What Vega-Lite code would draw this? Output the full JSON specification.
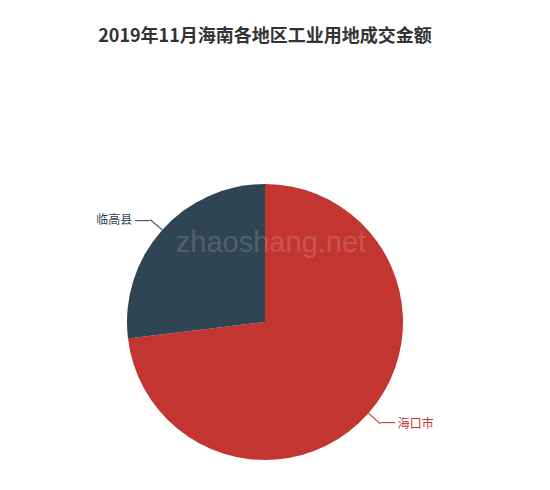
{
  "$schema": "https://vega.github.io/schema/vega-lite/v6.json",
  "width": 530,
  "height": 336,
  "autosize": {"type": "none"},
  "padding": {"left": 0, "top": 154, "right": 0, "bottom": 0},
  "background": "#ffffff",
  "config": {"view": {"stroke": null}},
  "title": {
    "text": "2019年11月海南各地区工业用地成交金额",
    "anchor": "middle",
    "fontSize": 18,
    "fontWeight": "bold",
    "color": "#333333",
    "font": "Noto Sans CJK SC",
    "offset": 108
  },
  "layer": [
    {
      "data": {"values": [
        {"city": "海口市", "amount": 731},
        {"city": "临高县", "amount": 269}
      ]},
      "encoding": {
        "theta": {"field": "amount", "type": "quantitative", "stack": true},
        "order": {"field": "amount", "type": "quantitative", "sort": "descending"},
        "color": {
          "field": "city",
          "type": "nominal",
          "scale": {"domain": ["海口市", "临高县"], "range": ["#c23531", "#2f4554"]},
          "legend": null
        }
      },
      "layer": [
        {"mark": {"type": "arc", "outerRadius": 138}},
        {"mark": {"type": "text", "text": "──", "radius": 146, "angle": 41.5, "align": "center", "baseline": "middle", "font": "DejaVu Sans", "fontSize": 13}},
        {"mark": {"type": "text", "text": "──", "radius": 159, "thetaOffset": -0.038, "align": "center", "baseline": "middle", "font": "DejaVu Sans", "fontSize": 12}},
        {
          "mark": {"type": "text", "radius": 182, "thetaOffset": -0.132, "align": "center", "baseline": "middle", "font": "Noto Sans CJK SC", "fontSize": 12},
          "encoding": {"text": {"field": "city", "type": "nominal"}}
        }
      ]
    },
    {
      "data": {"values": [{"site": "zhaoshang.net"}]},
      "mark": {"type": "text", "font": "Liberation Sans", "fontSize": 29, "color": "#ffffff", "opacity": 0.15, "align": "center", "baseline": "alphabetic", "dx": 6, "dy": -70},
      "encoding": {"text": {"field": "site", "type": "nominal"}}
    }
  ]
}
